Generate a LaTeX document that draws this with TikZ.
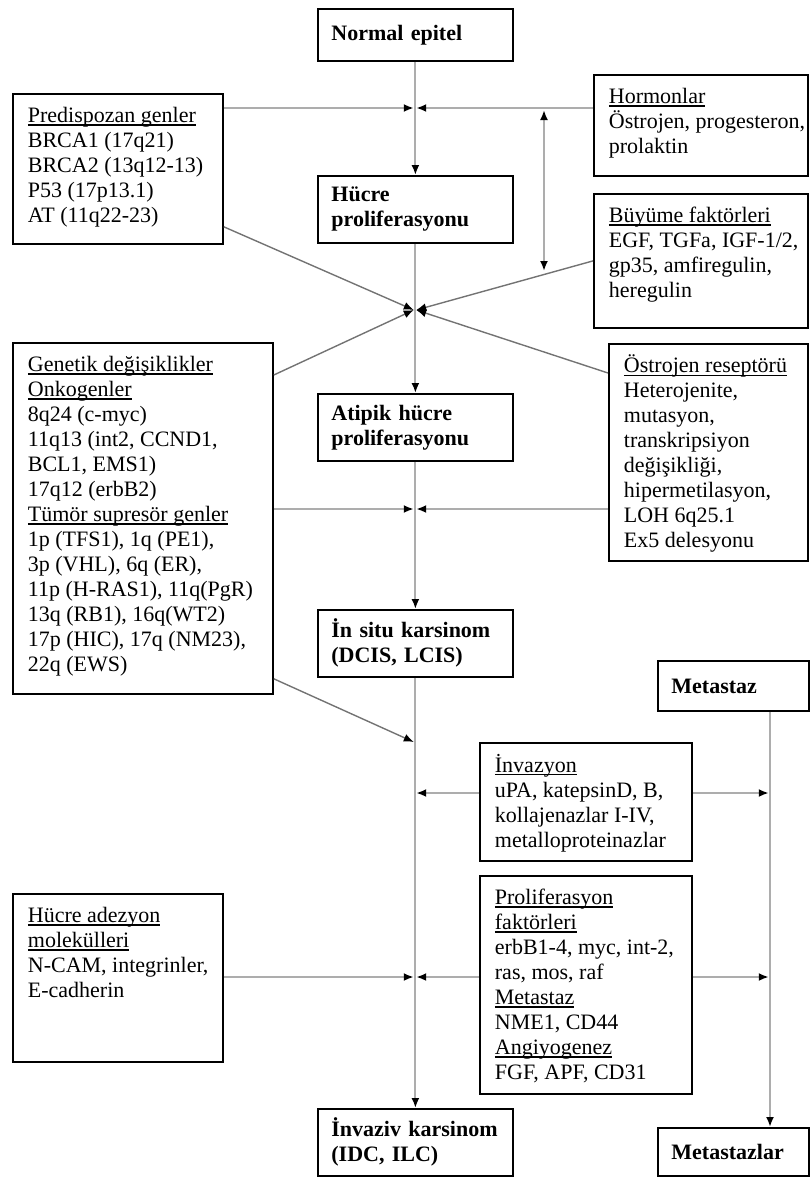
\documentclass[tikz,border=0pt]{standalone}
\usepackage{fontspec}
\setmainfont{Liberation Serif}
\usetikzlibrary{arrows.meta}

\newcommand{\infotext}[3]{%
  \begin{minipage}[t][#2][t]{#1}%
  \begin{tabular}[t]{@{}l@{}}#3\end{tabular}%
  \end{minipage}}
\newcommand{\hdr}[1]{\setbox0\hbox{#1}\rlap{\rule[-1.6pt]{\wd0}{0.6pt}}\box0}

\tikzset{
  stage/.style={rectangle,draw,line width=0.9pt,anchor=north west,
                text width=84pt,inner xsep=6.75pt,align=left,
                font=\fontsize{11}{12.5}\selectfont\bfseries},
  factor/.style={rectangle,draw,line width=0.9pt,anchor=north west,
                 inner xsep=7.5pt,inner ysep=5.5pt,
                 font=\fontsize{11}{12.5}\selectfont},
  link/.style={draw=black!32,line width=1pt,
               >={Latex[black,length=5pt,width=4pt]},->},
  slant/.style={link,draw=black!55,line width=0.7pt},
  twoway/.style={link,<->},
}

\begin{document}
\begin{tikzpicture}[x=0.5pt,y=-0.5pt]
    \useasboundingbox (0,0) rectangle (810,1178);

    % Stages
    \node[stage,minimum height=26pt]   (norm)   at (317,8)    {Normal epitel};
    \node[stage,minimum height=33.5pt] (hucre)  at (317,175)  {Hücre\\proliferasyonu};
    \node[stage,minimum height=33.5pt] (atip)   at (317,393)  {Atipik hücre\\proliferasyonu};
    \node[stage,minimum height=33.5pt] (insitu) at (317,609)  {İn situ karsinom\\(DCIS, LCIS)};
    \node[stage,minimum height=33.5pt] (invk)   at (317,1108) {\mbox{İnvaziv karsinom}\\(IDC, ILC)};
    \node[stage,text width=62pt,minimum height=25pt] (metz) at (657,660)  {Metastaz};
    \node[stage,text width=62pt,minimum height=24pt] (mets) at (657,1127) {Metastazlar};

    % Factors
    \node[factor] (pred) at (12,93) {\infotext{90pt}{64pt}{%
        \hdr{Predispozan genler}\\ BRCA1 (17q21)\\ BRCA2 (13q12-13)\\
        P53 (17p13.1)\\ AT (11q22-23)}};
    \node[factor] (horm) at (593,74) {\infotext{92pt}{39.5pt}{%
        \hdr{Hormonlar}\\ Östrojen, progesteron,\\ prolaktin}};
    \node[factor] (bfak) at (593,193) {\infotext{92pt}{56pt}{%
        \hdr{Büyüme faktörleri}\\ EGF, TGFa, IGF-1/2,\\ gp35, amfiregulin,\\ heregulin}};
    \node[factor] (gen) at (12,342) {\infotext{115pt}{164.5pt}{%
        \hdr{Genetik değişiklikler}\\ \hdr{Onkogenler}\\ 8q24 (c-myc)\\
        11q13 (int2, CCND1,\\ BCL1, EMS1)\\ 17q12 (erbB2)\\
        \hdr{Tümör supresör genler}\\ 1p (TFS1), 1q (PE1),\\ 3p (VHL), 6q (ER),\\
        11p (H-RAS1), 11q(PgR)\\ 13q (RB1), 16q(WT2)\\ 17p (HIC), 17q (NM23),\\
        22q (EWS)}};
    \node[factor] (ostr) at (608,343) {\infotext{84.5pt}{97.5pt}{%
        \hdr{Östrojen reseptörü}\\ Heterojenite,\\ mutasyon,\\ transkripsiyon\\
        değişikliği,\\ hipermetilasyon,\\ LOH 6q25.1\\ Ex5 delesyonu}};
    \node[factor] (invz) at (479,742) {\infotext{91pt}{48pt}{%
        \hdr{İnvazyon}\\ uPA, katepsinD, B,\\ kollajenazlar I-IV,\\ metalloproteinazlar}};
    \node[factor] (prol) at (479,875) {\infotext{91pt}{98pt}{%
        \hdr{Proliferasyon}\\ \hdr{faktörleri}\\ erbB1-4, myc, int-2,\\
        ras, mos, raf\\ \hdr{Metastaz}\\ NME1, CD44\\ \hdr{Angiyogenez}\\
        FGF, APF, CD31}};
    \node[factor] (adez) at (12,893) {\infotext{90pt}{73pt}{%
        \hdr{Hücre adezyon}\\ \hdr{molekülleri}\\ N-CAM, integrinler,\\ E-cadherin}};

    % Junctions
    \coordinate (jh) at (415,108);
    \coordinate (jc) at (415,310);
    \coordinate (jg) at (415,509);
    \coordinate (jd) at (415,742);
    \coordinate (ji) at (415,793);
    \coordinate (jp) at (415,977);
    \coordinate (mi) at (770,793);
    \coordinate (mp) at (770,977);
    \coordinate (mline) at (770,700);
    \coordinate (da) at (544,110);
    \coordinate (db) at (544,271);

    % Main course
    \draw[link] (norm.south)   -- (hucre.north);
    \draw[link] (hucre.south)  -- (atip.north);
    \draw[link] (atip.south)   -- (insitu.north);
    \draw[link] (insitu.south) -- (invk.north);
    \draw[link] (metz.south -| mline) -- (mets.north -| mline);

    % Influences
    \draw[link] (pred.east |- jh) -- ([xshift=-0.6pt]jh);
    \draw[link] (horm.west |- jh) -- ([xshift=0.6pt]jh);
    \draw[twoway] (da) -- (db);
    \draw[slant] ([yshift=9pt]pred.south east)    -- ([xshift=-0.6pt]jc);
    \draw[slant] ([yshift=-16.5pt]gen.north east) -- ([xshift=-0.6pt]jc);
    \draw[slant] (bfak.west)                      -- ([xshift=0.6pt]jc);
    \draw[slant] ([yshift=-15pt]ostr.north west)  -- ([xshift=0.6pt]jc);
    \draw[link] (gen.east |- jg)  -- ([xshift=-0.6pt]jg);
    \draw[link] (ostr.west |- jg) -- ([xshift=0.6pt]jg);
    \draw[slant] ([yshift=8pt]gen.south east) -- ([xshift=-0.6pt]jd);
    \draw[link] (invz.west |- ji) -- ([xshift=0.6pt]ji);
    \draw[link] (invz.east |- mi) -- ([xshift=-0.6pt]mi);
    \draw[link] (adez.east |- jp) -- ([xshift=-0.6pt]jp);
    \draw[link] (prol.west |- jp) -- ([xshift=0.6pt]jp);
    \draw[link] (prol.east |- mp) -- ([xshift=-0.6pt]mp);
\end{tikzpicture}
\end{document}
